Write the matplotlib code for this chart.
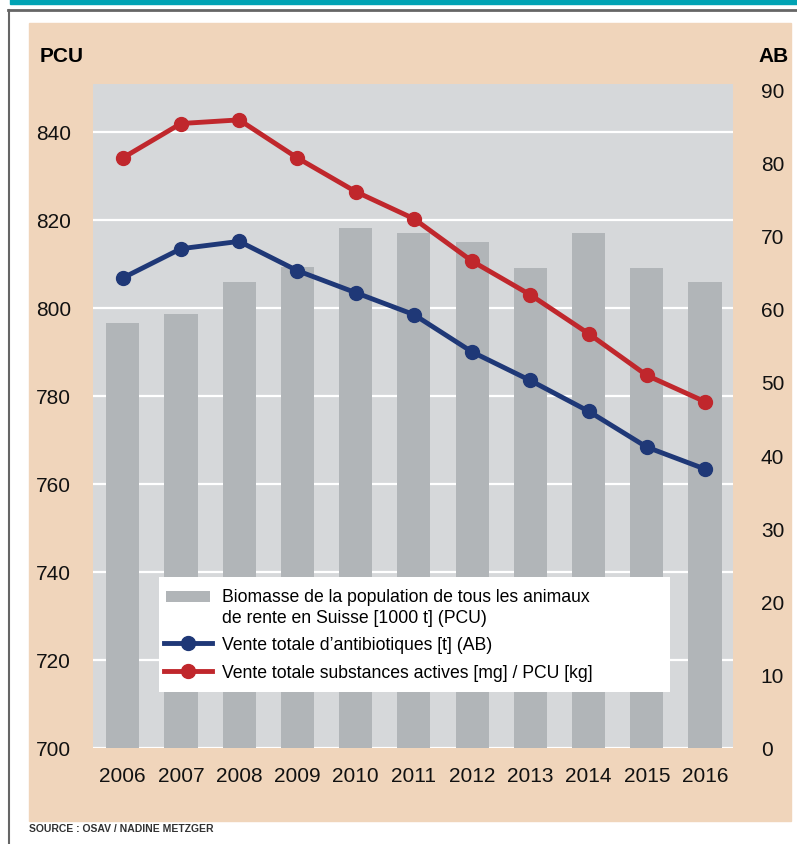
import matplotlib

matplotlib.use("Agg")
import matplotlib.pyplot as plt
from matplotlib.legend_handler import HandlerPatch
from matplotlib.lines import Line2D
from matplotlib.patches import Patch, Rectangle

plt.rcParams["font.family"] = ["Liberation Sans", "DejaVu Sans"]

years = ["2006", "2007", "2008", "2009", "2010", "2011", "2012", "2013", "2014", "2015", "2016"]
biomass_pcu = [796.6, 798.6, 805.8, 809.3, 818.1, 817.0, 815.1, 809.1, 817.1, 809.1, 806.0]
antibiotics_ab = [64.2, 68.2, 69.2, 65.2, 62.2, 59.2, 54.1, 50.2, 46.0, 41.1, 38.1]
active_mg_per_pcu = [80.6, 85.3, 85.8, 80.6, 76.0, 72.3, 66.5, 61.9, 56.6, 50.9, 47.3]

left_ticks = [700, 720, 740, 760, 780, 800, 820, 840]
right_ticks = [0, 10, 20, 30, 40, 50, 60, 70, 80, 90]

label_bio = "Biomasse de la population de tous les animaux\nde rente en Suisse [1000 t] (PCU)"
label_ab = "Vente totale d\u2019antibiotiques [t] (AB)"
label_mg = "Vente totale substances actives [mg] / PCU [kg]"

peach = "#f0d5bb"
plot_bg = "#d6d8da"
bar_col = "#b1b5b8"
blue = "#1f3877"
red = "#c0272c"

W, H = 797, 845
fig = plt.figure(figsize=(W / 100, H / 100), dpi=100)
fig.patch.set_facecolor("white")


def fx(px):
    return px / W


def fy(py):
    return 1 - py / H


# frame decorations (behind the axes)
fig.patches.append(Rectangle((fx(10), fy(5)), 1 - fx(10), 5 / H, transform=fig.transFigure,
                             color="#00a3b4", zorder=-1))
fig.add_artist(Line2D([fx(8), 1], [fy(11), fy(11)], color="#666666", lw=2,
                      transform=fig.transFigure, zorder=-1))
fig.add_artist(Line2D([fx(9), fx(9)], [fy(11), 0], color="#666666", lw=1.5,
                      transform=fig.transFigure, zorder=-1))
fig.patches.append(Rectangle((fx(29), fy(822)), fx(791) - fx(29), (822 - 24) / H,
                             transform=fig.transFigure, color=peach, zorder=-1))

ax = fig.add_axes([fx(93), fy(749), fx(733) - fx(93), (749 - 85) / H])
ax.set_facecolor(plot_bg)
x = list(range(len(years)))
ax.bar(x, biomass_pcu, width=0.57, color=bar_col, zorder=2)
ax.set_ylim(700, 850.9)
ax.set_xlim(-0.51, 10.48)
ax.set_yticks(left_ticks)
ax.set_xticks(x)
ax.set_xticklabels(years)
ax.grid(axis="y", color="white", lw=1.6, zorder=1)
ax.set_axisbelow(True)
ax.tick_params(axis="both", length=0, labelsize=15, colors="#111111")
ax.tick_params(axis="y", pad=16)
ax.tick_params(axis="x", pad=13)
for s in ax.spines.values():
    s.set_visible(False)

ax2 = ax.twinx()
ax2.plot(x, antibiotics_ab, color=blue, lw=3.5, marker="o", ms=10, zorder=3)
ax2.plot(x, active_mg_per_pcu, color=red, lw=3.5, marker="o", ms=10, zorder=3)
ax2.set_ylim(0, 90.7)
ax2.set_yticks(right_ticks)
ax2.tick_params(axis="y", length=0, labelsize=15, colors="#111111", pad=20)
for s in ax2.spines.values():
    s.set_visible(False)

fig.text(fx(40), fy(56), "PCU", fontsize=15, fontweight="bold", va="center", ha="left")
fig.text(fx(789), fy(56), "AB", fontsize=15, fontweight="bold", va="center", ha="right")
fig.text(fx(29), fy(829), "SOURCE : OSAV / NADINE METZGER", fontsize=7.5, fontweight="bold",
         color="#333333", va="center", ha="left")

# legend: white box wider than its text, bar swatch level with the first line
ax2.add_patch(Rectangle((fx(159), fy(693)), fx(670) - fx(159), (693 - 578) / H,
                        transform=fig.transFigure, facecolor="white", edgecolor="none",
                        zorder=9, clip_on=False))


def top_swatch(legend, orig_handle, xdescent, ydescent, width, height, fontsize):
    return Rectangle((-xdescent + 1.5, -ydescent + 7.6), width - 3, height)


handles = [
    Patch(facecolor=bar_col, edgecolor="none"),
    Line2D([], [], color=blue, lw=3.5, marker="o", ms=10),
    Line2D([], [], color=red, lw=3.5, marker="o", ms=10),
]
labels = [label_bio, label_ab, label_mg]
leg = ax2.legend(handles, labels, loc="upper left", bbox_to_anchor=(fx(159), fy(584)),
                 bbox_transform=fig.transFigure, fontsize=12.7, frameon=False,
                 handlelength=2.7, handleheight=0.57, handletextpad=0.6, labelspacing=0.6,
                 borderpad=0.3, borderaxespad=0,
                 handler_map={Patch: HandlerPatch(patch_func=top_swatch)})
for t in leg.get_texts():
    t.set_linespacing(1.25)
leg.set_zorder(10)

fig.savefig("out.png", dpi=100)
